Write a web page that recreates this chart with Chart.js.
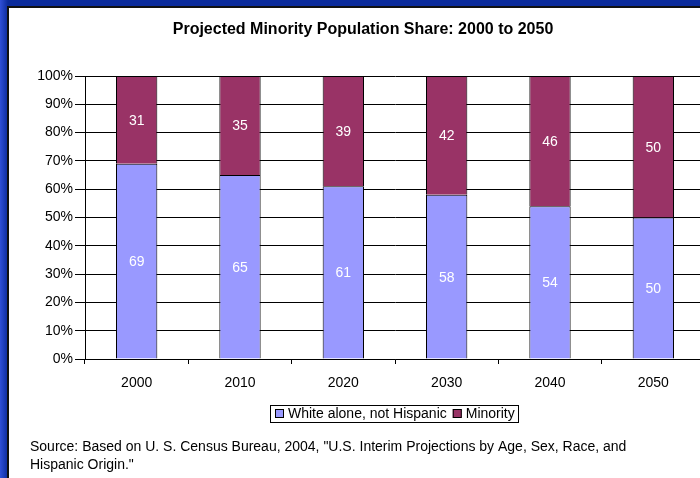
<!DOCTYPE html>
<html>
<head>
<meta charset="utf-8">
<script src="https://cdn.jsdelivr.net/npm/chart.js@4.4.1/dist/chart.umd.min.js"></script>
<style>
  html, body { margin: 0; padding: 0; width: 700px; height: 478px; overflow: hidden; background: #0b2b9b; }
  #leftStrip { position: absolute; left: 0; top: 0; width: 8px; height: 478px;
    background: linear-gradient(to right, #3050d8, #0b2b9b); }
  #panel { position: absolute; left: 7px; top: 6px; width: 800px; height: 600px; background: #fff;
    border-left: 2px solid #111; border-top: 2px solid #111; }
  #chart { position: absolute; left: 0; top: 0; }
</style>
</head>
<body>
<div id="leftStrip"></div>
<div id="panel"></div>
<canvas id="chart" width="712" height="478"></canvas>
<script>
const years = ['2000', '2010', '2020', '2030', '2040', '2050'];
const whiteShare = [69, 65, 61, 58, 54, 50];
const minorityShare = [31, 35, 39, 42, 46, 50];
const chartTitle = 'Projected Minority Population Share: 2000 to 2050';
const sourceLines = [
    'Source: Based on U. S. Census Bureau, 2004, "U.S. Interim Projections by Age, Sex, Race, and',
    'Hispanic Origin."'
];

const FONT = '"Liberation Sans", Arial, sans-serif';

// title, segment labels, boxed legend and source note
const extras = {
    id: 'extras',
    afterDatasetsDraw(chart) {
        const c = chart.ctx;
        c.save();
        c.font = '14px ' + FONT;
        c.fillStyle = '#fff';
        c.textAlign = 'center';
        c.textBaseline = 'middle';
        chart.data.datasets.forEach((ds, i) => {
            chart.getDatasetMeta(i).data.forEach((bar, j) => {
                const p = bar.getProps(['x', 'y', 'base'], true);
                c.fillText(String(ds.data[j]), p.x, (p.y + p.base) / 2 + 1);
            });
        });
        c.restore();
    },
    afterDraw(chart) {
        const c = chart.ctx;
        c.save();
        c.fillStyle = '#000';
        c.textBaseline = 'middle';

        c.font = 'bold 16px ' + FONT;
        c.textAlign = 'center';
        c.fillText(chartTitle, 363, 30);

        // legend
        c.font = '14px ' + FONT;
        c.textAlign = 'left';
        let x = 275;
        const ly = 414;
        chart.data.datasets.forEach((ds, i) => {
            if (i > 0) x += 6;
            c.fillStyle = ds.backgroundColor;
            c.fillRect(x, ly - 5, 9, 9);
            c.strokeStyle = '#000';
            c.lineWidth = 1;
            c.strokeRect(x + 0.5, ly - 4.5, 8, 8);
            x += 13;
            c.fillStyle = '#000';
            c.fillText(ds.label, x, ly);
            x += c.measureText(ds.label).width;
        });
        c.strokeStyle = '#000';
        c.strokeRect(270.5, 405.5, Math.round(x + 3 - 270), 17);

        // source note
        c.font = '14px ' + FONT;
        sourceLines.forEach((t, i) => c.fillText(t, 30, 447 + i * 18));
        c.restore();
    }
};

new Chart(document.getElementById('chart'), {
    type: 'bar',
    data: {
        labels: years,
        datasets: [{
            label: 'White alone, not Hispanic',
            data: whiteShare,
            backgroundColor: '#9999ff',
            borderColor: '#000',
            borderWidth: 1,
            barPercentage: 0.4,
            categoryPercentage: 1
        }, {
            label: 'Minority',
            data: minorityShare,
            backgroundColor: '#993366',
            borderColor: '#000',
            borderWidth: 1,
            barPercentage: 0.4,
            categoryPercentage: 1
        }]
    },
    options: {
        responsive: false,
        animation: false,
        layout: { padding: { left: 0, right: 7, top: 76, bottom: 89 } },
        plugins: {
            legend: { display: false },
            title: { display: false },
            tooltip: { enabled: false }
        },
        scales: {
            x: {
                stacked: true,
                afterFit(scale) { scale.height = 30; },
                grid: { offset: true, drawOnChartArea: false, drawTicks: true, tickLength: 5, color: '#000' },
                border: { color: '#000' },
                ticks: { color: '#000', padding: 11, font: { family: FONT, size: 14 } }
            },
            y: {
                stacked: true,
                min: 0,
                max: 100,
                afterFit(scale) { scale.width = 85; },
                grid: { color: '#000', tickLength: 10 },
                border: { color: '#000' },
                ticks: {
                    stepSize: 10,
                    padding: 2,
                    color: '#000',
                    font: { family: FONT, size: 14 },
                    callback: v => v + '%'
                }
            }
        }
    },
    plugins: [extras]
});
</script>
</body>
</html>
